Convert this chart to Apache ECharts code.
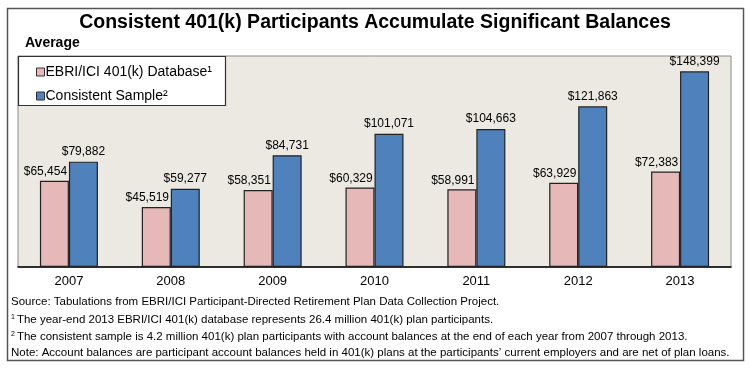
<!DOCTYPE html>
<html><head><meta charset="utf-8">
<script src="https://cdn.jsdelivr.net/npm/echarts@6/dist/echarts.min.js"></script>
<style>html,body{margin:0;padding:0;background:#fff}#c{width:750px;height:372px}</style>
</head><body><div id="c"></div>
<script>
const categories = ['2007','2008','2009','2010','2011','2012','2013'];
const seriesNames = ['EBRI/ICI 401(k) Database\u00B9', 'Consistent Sample\u00B2'];
const databaseValues = [65454, 45519, 58351, 60329, 58991, 63929, 72383];
const consistentValues = [79882, 59277, 84731, 101071, 104663, 121863, 148399];
const titleText = 'Consistent 401(k) Participants Accumulate Significant Balances';
const yLabel = 'Average';
const notes = [
  'Source: Tabulations from EBRI/ICI Participant-Directed Retirement Plan Data Collection Project.',
  '{s|1}The year-end 2013 EBRI/ICI 401(k) database represents 26.4 million 401(k) plan participants.',
  '{s|2}The consistent sample is 4.2 million 401(k) plan participants with account balances at the end of each year from 2007 through 2013.',
  'Note: Account balances are participant account balances held in 401(k) plans at the participants\u2019 current employers and are net of plan loans.'
];

const fmt = v => '$' + v.value.toLocaleString('en-US');
const chart = echarts.init(document.getElementById('c'));
const font = 'Arial, "Liberation Sans", sans-serif';
const noteY = [302, 320, 337, 353];
chart.setOption({
  backgroundColor: '#fff',
  animation: false,
  textStyle: { fontFamily: font },
  grid: { left: 18, right: 19, top: 56, bottom: 105, show: true, backgroundColor: '#EBE9E2', borderColor: '#8a8a8a', borderWidth: 1 },
  legend: {
    orient: 'vertical', left: 31, top: 60, itemWidth: 8, itemHeight: 8, itemGap: 10,
    icon: 'rect',
    itemStyle: { borderWidth: 1, borderColor: '#333' },
    textStyle: { fontSize: 14, color: '#000', fontFamily: font, padding: [0,0,0,-4] },
    data: seriesNames
  },
  xAxis: {
    type: 'category', data: categories,
    axisLine: { lineStyle: { color: '#000', width: 1.5 } },
    axisTick: { inside: true, length: 4, lineStyle: { color: '#555' } },
    axisLabel: { color: '#000', fontSize: 13, margin: 8, fontFamily: font }
  },
  yAxis: { type: 'value', min: 0, max: 160000, show: false, splitLine: { show: false } },
  series: [
    { name: seriesNames[0], type: 'bar', data: databaseValues, barWidth: 29, barGap: '0%',
      itemStyle: { color: '#E6B8B7', borderColor: '#222', borderWidth: 1.2 },
      label: { show: true, position: 'top', distance: 3, offset: [-9, 0], formatter: fmt, color: '#000', fontSize: 12, fontFamily: font } },
    { name: seriesNames[1], type: 'bar', data: consistentValues, barWidth: 29,
      itemStyle: { color: '#4F81BD', borderColor: '#222', borderWidth: 1.2 },
      label: { show: true, position: 'top', distance: 4, formatter: fmt, color: '#000', fontSize: 12, fontFamily: font } }
  ],
  graphic: [
    { type: 'rect', z: -1, shape: { x: 7.5, y: 8.5, width: 736, height: 352 }, style: { fill: 'none', stroke: '#555', lineWidth: 1.5 } },
    { type: 'rect', z: 3, shape: { x: 18.5, y: 56.5, width: 207, height: 49 }, style: { fill: '#fff', stroke: '#333', lineWidth: 1.2 } },
    { type: 'text', x: 375, y: 23, style: { text: titleText, fontSize: 19.5, fontWeight: 'bold', fontFamily: font, fill: '#000', align: 'center', verticalAlign: 'middle' } },
    { type: 'text', x: 25, y: 43, style: { text: yLabel, fontSize: 14, fontWeight: 'bold', fontFamily: font, fill: '#000', verticalAlign: 'middle' } },
    ...notes.map((t, i) => ({ type: 'text', x: 11, y: noteY[i], style: {
      text: t, fontSize: 11.5, fontFamily: font, fill: '#000', verticalAlign: 'middle',
      rich: { s: { fontSize: 7, verticalAlign: 'top', padding: [0, 2, 6, 0], fontFamily: font, fill: '#000' } } } }))
  ]
});
</script></body></html>
